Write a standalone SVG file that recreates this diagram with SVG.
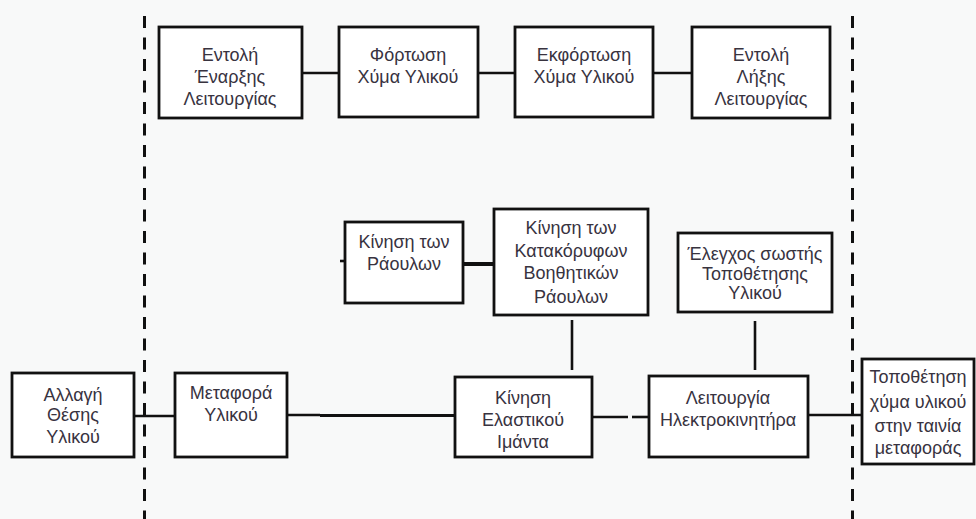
<svg xmlns="http://www.w3.org/2000/svg" width="976" height="519" viewBox="0 0 976 519">
  <style>
    .box { fill: #ffffff; stroke: #111111; stroke-width: 2.8; }
    .lbl { font-family: "Liberation Sans", "DejaVu Sans", sans-serif; font-size: 18px; fill: #38333f; text-anchor: middle; }
    .wire { stroke: #111111; stroke-width: 2.6; fill: none; }
    .bound { stroke: #111111; stroke-width: 3; stroke-dasharray: 12 9.5; fill: none; }
  </style>
  <rect width="976" height="519" fill="#f8f9f9"/>

  <!-- system boundary -->
  <g id="boundary">
    <line class="bound" x1="144.5" y1="16" x2="144.5" y2="519"/>
    <line class="bound" x1="852.5" y1="16" x2="852.5" y2="519"/>
  </g>

  <!-- connectors -->
  <g id="connectors">
    <line class="wire" x1="302" y1="73" x2="339" y2="73"/>
    <line class="wire" x1="478" y1="73" x2="515" y2="73"/>
    <line class="wire" x1="653" y1="73" x2="692" y2="73"/>
    <line class="wire" x1="340" y1="261" x2="345" y2="261"/>
    <line class="wire" x1="463" y1="264" x2="494" y2="264" style="stroke-width:4"/>
    <line class="wire" x1="572" y1="320" x2="572" y2="370"/>
    <line class="wire" x1="755" y1="321" x2="755" y2="370"/>
    <line class="wire" x1="134" y1="416" x2="175" y2="416"/>
    <line class="wire" x1="287" y1="415" x2="320" y2="415"/>
    <line class="wire" x1="320" y1="415.5" x2="455" y2="415.5" style="stroke-width:3.2"/>
    <line class="wire" x1="592" y1="417" x2="628" y2="417"/>
    <line class="wire" x1="632" y1="417" x2="649" y2="417"/>
    <line class="wire" x1="808" y1="415" x2="862" y2="415"/>
  </g>

  <!-- top row -->
  <g id="n-start">
    <rect class="box" x="159" y="27" width="143" height="91"/>
    <text class="lbl" x="230" y="61">Εντολή</text>
    <text class="lbl" x="230" y="83">Έναρξης</text>
    <text class="lbl" x="230" y="105">Λειτουργίας</text>
  </g>
  <g id="n-load">
    <rect class="box" x="339" y="27" width="139" height="90"/>
    <text class="lbl" x="408" y="61">Φόρτωση</text>
    <text class="lbl" x="408" y="83">Χύμα Υλικού</text>
  </g>
  <g id="n-unload">
    <rect class="box" x="515" y="27" width="138" height="90"/>
    <text class="lbl" x="584" y="61">Εκφόρτωση</text>
    <text class="lbl" x="584" y="83">Χύμα Υλικού</text>
  </g>
  <g id="n-stop">
    <rect class="box" x="692" y="27" width="138" height="91"/>
    <text class="lbl" x="761" y="61">Εντολή</text>
    <text class="lbl" x="761" y="83">Λήξης</text>
    <text class="lbl" x="761" y="105">Λειτουργίας</text>
  </g>

  <!-- middle row -->
  <g id="n-rollers">
    <rect class="box" x="345" y="222" width="118" height="81"/>
    <text class="lbl" x="404" y="248">Κίνηση των</text>
    <text class="lbl" x="404" y="270">Ράουλων</text>
  </g>
  <g id="n-vrollers">
    <rect class="box" x="494" y="209" width="154" height="106"/>
    <text class="lbl" x="571" y="234">Κίνηση των</text>
    <text class="lbl" x="571" y="257">Κατακόρυφων</text>
    <text class="lbl" x="571" y="279">Βοηθητικών</text>
    <text class="lbl" x="571" y="303">Ράουλων</text>
  </g>
  <g id="n-check">
    <rect class="box" x="678" y="233" width="154" height="79"/>
    <text class="lbl" x="755" y="260">Έλεγχος σωστής</text>
    <text class="lbl" x="755" y="280">Τοποθέτησης</text>
    <text class="lbl" x="755" y="299">Υλικού</text>
  </g>

  <!-- bottom row -->
  <g id="n-reposition">
    <rect class="box" x="12" y="373" width="122" height="84"/>
    <text class="lbl" x="73" y="401">Αλλαγή</text>
    <text class="lbl" x="73" y="421">Θέσης</text>
    <text class="lbl" x="73" y="443">Υλικού</text>
  </g>
  <g id="n-transport">
    <rect class="box" x="175" y="373" width="112" height="84"/>
    <text class="lbl" x="231" y="399">Μεταφορά</text>
    <text class="lbl" x="231" y="421">Υλικού</text>
  </g>
  <g id="n-belt">
    <rect class="box" x="455" y="377" width="137" height="80"/>
    <text class="lbl" x="523" y="404">Κίνηση</text>
    <text class="lbl" x="523" y="426">Ελαστικού</text>
    <text class="lbl" x="523" y="448">Ιμάντα</text>
  </g>
  <g id="n-motor">
    <rect class="box" x="649" y="376" width="159" height="81"/>
    <text class="lbl" x="728" y="404">Λειτουργία</text>
    <text class="lbl" x="728" y="426">Ηλεκτροκινητήρα</text>
  </g>
  <g id="n-place">
    <rect class="box" x="862" y="359" width="112" height="105"/>
    <text class="lbl" x="918" y="383">Τοποθέτηση</text>
    <text class="lbl" x="918" y="408">χύμα υλικού</text>
    <text class="lbl" x="918" y="432">στην ταινία</text>
    <text class="lbl" x="918" y="454">μεταφοράς</text>
  </g>
</svg>
